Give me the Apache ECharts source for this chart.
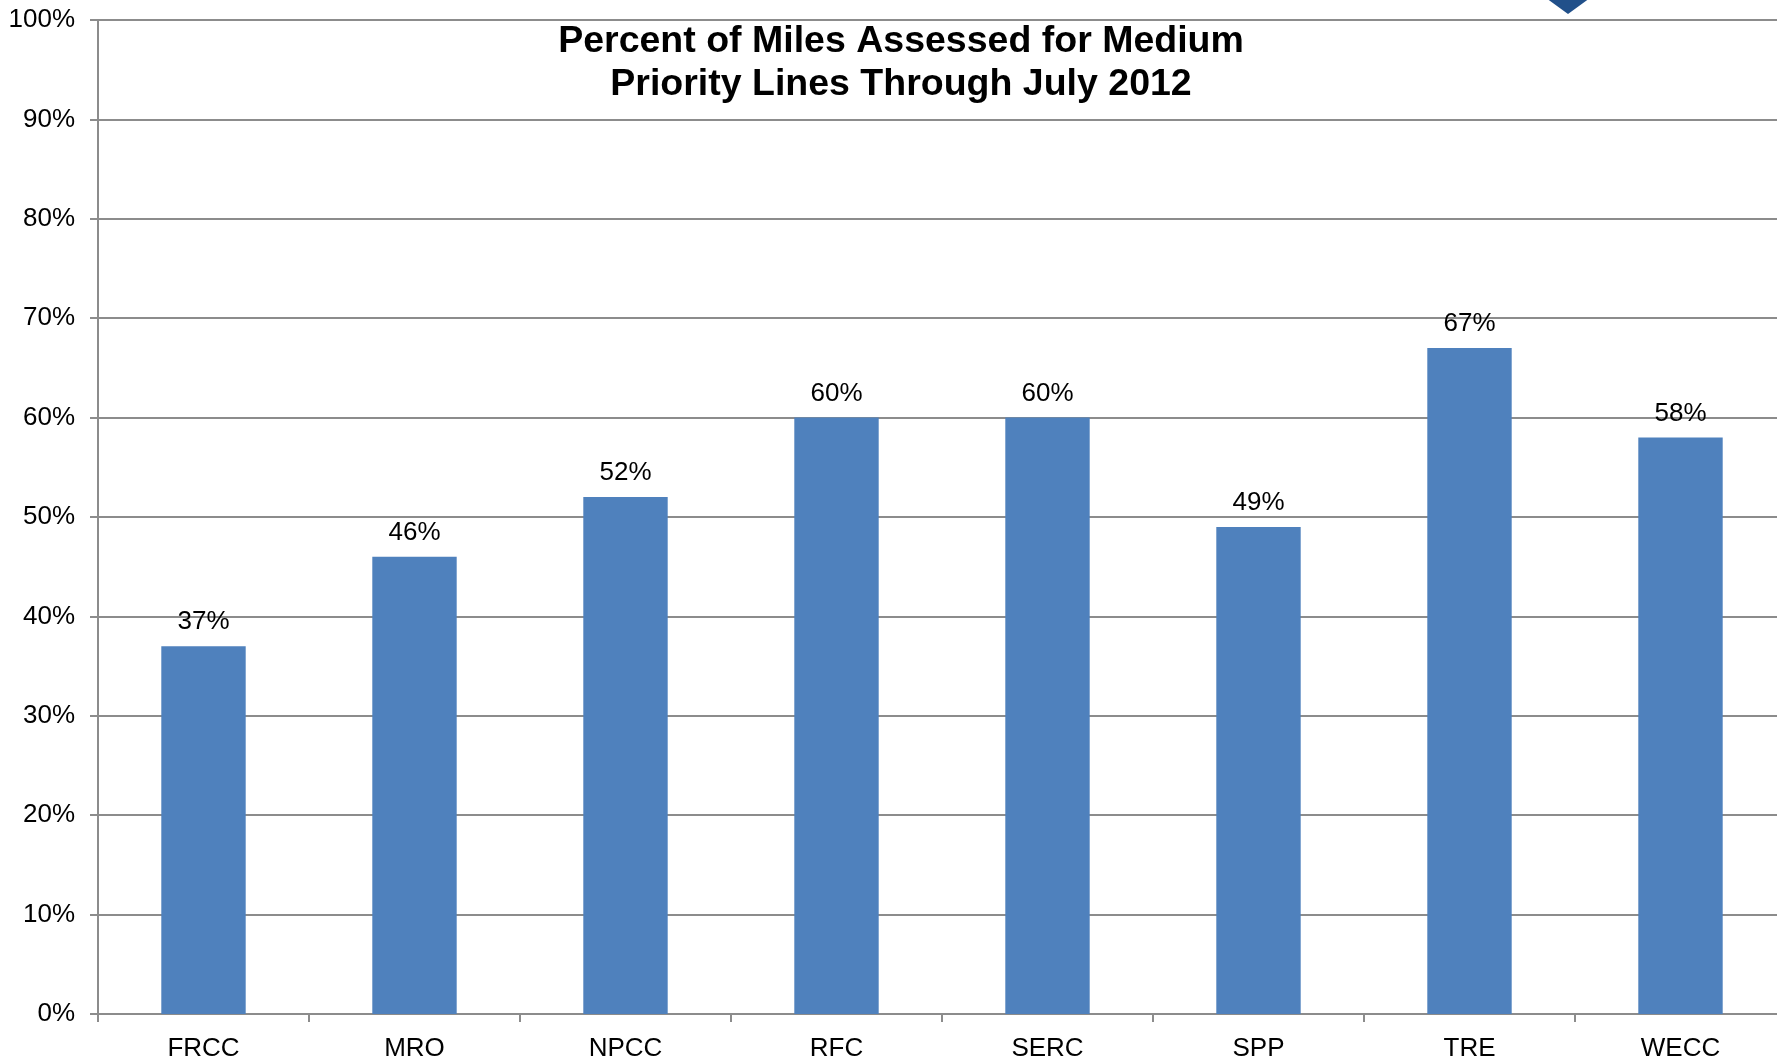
<!DOCTYPE html>
<html>
<head>
<meta charset="utf-8">
<title>Percent of Miles Assessed</title>
<script src="https://cdn.jsdelivr.net/npm/echarts@6/dist/echarts.min.js"></script>
<style>
  html, body { margin: 0; padding: 0; background: #fff; }
  #chart { width: 1777px; height: 1060px; }
</style>
</head>
<body>
<div id="chart"></div>
<script>
// regions and assessed share (%)
const regions = ['FRCC', 'MRO', 'NPCC', 'RFC', 'SERC', 'SPP', 'TRE', 'WECC']
const percentAssessed = [37, 46, 52, 60, 60, 49, 67, 58]
const yTicks = { min: 0, max: 100, step: 10 }

const font = '"Liberation Sans", Arial, sans-serif'
const gridColor = '#8c8c8c'

const chart = echarts.init(document.getElementById('chart'))

chart.setOption({
  backgroundColor: '#fff',
  animation: false,
  title: {
    text: 'Percent of Miles Assessed for Medium\nPriority Lines Through July 2012',
    left: 896,
    top: 15,
    textAlign: 'center',
    textStyle: {
      fontFamily: font,
      fontSize: 37.5,
      fontWeight: 'bold',
      lineHeight: 43,
      color: '#000'
    }
  },
  // plot runs a little past the right edge, like the cropped original
  grid: {
    left: 98,
    top: 20,
    width: 1688,
    bottom: 46,
    containLabel: false,
    outerBoundsMode: 'none'
  },
  xAxis: {
    type: 'category',
    data: regions,
    boundaryGap: true,
    axisLine: { lineStyle: { color: gridColor, width: 2 } },
    axisTick: { show: true, length: 8, lineStyle: { color: gridColor, width: 2 } },
    axisLabel: { color: '#000', fontFamily: font, fontSize: 26, margin: 22 }
  },
  yAxis: {
    type: 'value',
    min: yTicks.min,
    max: yTicks.max,
    interval: yTicks.step,
    axisLine: { show: true, lineStyle: { color: gridColor, width: 2 } },
    axisTick: { show: true, length: 8, lineStyle: { color: gridColor, width: 2 } },
    splitLine: { lineStyle: { color: gridColor, width: 2 } },
    axisLabel: {
      color: '#000',
      fontFamily: font,
      fontSize: 26,
      margin: 23,
      formatter: '{value}%'
    }
  },
  series: [
    {
      type: 'bar',
      data: percentAssessed,
      barWidth: '40%',
      itemStyle: { color: '#4f81bd' },
      label: {
        show: true,
        position: 'top',
        distance: 11,
        color: '#000',
        fontFamily: font,
        fontSize: 26,
        formatter: '{c}%'
      }
    }
  ],
  graphic: [
    {
      // the dark marker cut off at the top edge
      type: 'polygon',
      shape: { points: [[1546, -2], [1590, -2], [1568, 14]] },
      style: { fill: '#21508a' },
      z: 100
    }
  ]
})
</script>
</body>
</html>
